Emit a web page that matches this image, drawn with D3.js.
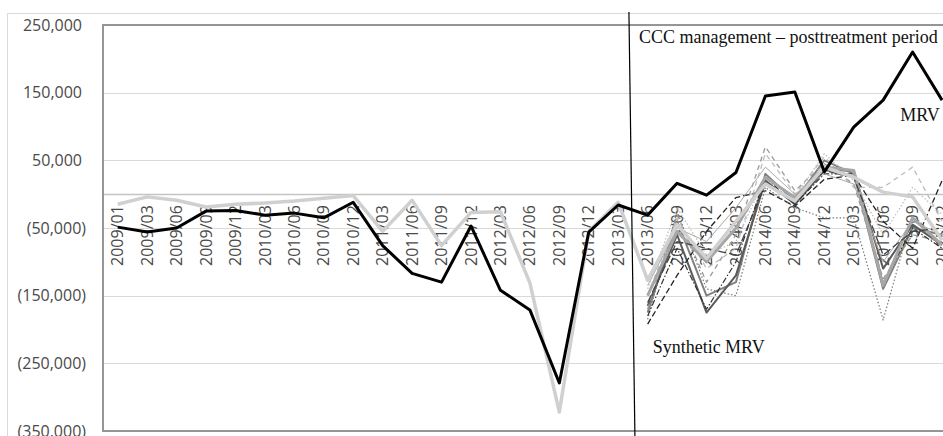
<!DOCTYPE html>
<html>
<head>
<meta charset="utf-8">
<script src="https://cdn.jsdelivr.net/npm/d3@7"></script>
<style>
  body { margin: 0; background: #fff; }
  svg { display: block; }
</style>
</head>
<body>
<svg id="chart"></svg>
<script>
var categories = ["2009/01", "2009/03", "2009/06", "2009/09", "2009/12",
    "2010/03", "2010/06", "2010/09", "2010/12",
    "2011/03", "2011/06", "2011/09", "2011/12",
    "2012/03", "2012/06", "2012/09", "2012/12",
    "2013/03", "2013/06", "2013/09", "2013/12",
    "2014/03", "2014/06", "2014/09", "2014/12",
    "2015/03", "2015/06", "2015/09", "2015/12"];

var yTicks = [250000, 150000, 50000, -50000, -150000, -250000, -350000];

// actual MRV
var mrv = [-48700, -56000, -50000, -25000, -24000, -31000, -28000, -35000, -12000,
    -76000, -117000, -130000, -47000, -142000, -171000, -279000, -56000, -16000,
    -31000, 16000, -1500, 32000, 145000, 151000, 33000, 99000, 139000, 210000, 139000];

// synthetic MRV (thick light grey)
var synthetic = [-15000, -4000, -9000, -19000, -15000, -13000, -10000, -6000, -2000,
    -55000, -9000, -76000, -27000, -26000, -131000, -322000, -55000, -12000,
    -127000, -45000, -95000, -40000, 15000, -10000, 40000, 25000, 3000, -4000, -68000];

// post treatment synthetic runs, 2013/06 .. 2015/12
var postStart = "2013/06";
var runA = [-175000, -40000, -150000, -130000, 30000, -10000, 50000, 30000, -140000, -50000, -60000];
var runB = [-165000, -60000, -175000, -120000, 20000, -15000, 35000, 35000, -110000, -45000, -75000];
var runC = [-192000, -120000, -55000, -5000, 5000, -18000, 22000, 28000, -40000, -80000, 20000];
var runD = [-170000, -30000, -130000, -60000, 70000, 5000, 45000, 15000, -125000, -60000, -70000];
var runE = [-150000, -35000, -110000, -80000, 60000, 0, 55000, 10000, 10000, 40000, -40000];
var runF = [-185000, -25000, -140000, -150000, 10000, -20000, -35000, -35000, -186000, -30000, -75000];
var runG = [-140000, -20000, -90000, -70000, 25000, -5000, 60000, 20000, -60000, 10000, -30000];
var runH = [-180000, -80000, -170000, -100000, 25000, -15000, 30000, 30000, -130000, -50000, -80000];
var runI = [-135000, -50000, -70000, -20000, 40000, 0, 30000, 15000, -100000, -40000, -60000];
var runJ = [-150000, -55000, -100000, -50000, 25000, -5000, 40000, 35000, -135000, -35000, -75000];
var runK = [-160000, -70000, -80000, -90000, 15000, -10000, 35000, 25000, -90000, -55000, -50000];

var runs = [runA, runB, runC, runD, runE, runF, runG, runH, runI, runJ, runK];
var runStyles = [
    { color: "#808080", width: 2, dash: null },
    { color: "#5a5a5a", width: 2, dash: null },
    { color: "#222222", width: 1.3, dash: "6,3" },
    { color: "#9a9a9a", width: 1.3, dash: "5,4" },
    { color: "#bdbdbd", width: 1.3, dash: "5,4" },
    { color: "#7a7a7a", width: 1.2, dash: "1.5,2" },
    { color: "#bbbbbb", width: 1.2, dash: "1.5,2" },
    { color: "#333333", width: 1.2, dash: "6,2,1.5,2" },
    { color: "#aaaaaa", width: 1, dash: null },
    { color: "#a6a6a6", width: 3, dash: null },
    { color: "#444444", width: 1.3, dash: "8,3" }
];

var width = 943, height = 436;
var plot = { left: 103, top: 25, bottom: 431, step: 29.44 };

var svg = d3.select("#chart").attr("width", width).attr("height", height);

var x = d3.scalePoint()
    .domain(categories)
    .range([plot.left, plot.left + plot.step * categories.length])
    .padding(0.5);

var y = d3.scaleLinear()
    .domain([-350000, 250000])
    .range([plot.bottom, plot.top]);

var plotRight = plot.left + plot.step * categories.length;

// outer chart frame
svg.append("rect")
    .attr("x", 7.5).attr("y", 13.5)
    .attr("width", width).attr("height", height)
    .attr("fill", "none").attr("stroke", "#d9d9d9").attr("stroke-width", 1);

// gridlines
svg.append("g").selectAll("line")
    .data(yTicks)
    .enter()
    .append("line")
    .attr("x1", plot.left).attr("x2", plotRight)
    .attr("y1", d => Math.round(y(d)) + 0.5).attr("y2", d => Math.round(y(d)) + 0.5)
    .attr("stroke", "#d9d9d9").attr("stroke-width", 1.2);

// zero axis
svg.append("line")
    .attr("x1", plot.left).attr("x2", plotRight)
    .attr("y1", Math.round(y(0)) + 0.5).attr("y2", Math.round(y(0)) + 0.5)
    .attr("stroke", "#c4c4c4").attr("stroke-width", 1.3);

// plot border
svg.append("rect")
    .attr("x", plot.left).attr("y", plot.top)
    .attr("width", plotRight - plot.left).attr("height", plot.bottom - plot.top)
    .attr("fill", "none").attr("stroke", "#8c8c8c").attr("stroke-width", 1.8);

// y labels, accounting style
var fmt = d3.format(",");
svg.append("g").selectAll("text")
    .data(yTicks)
    .enter()
    .append("text")
    .attr("x", d => d < 0 ? 86 : 82)
    .attr("y", d => y(d))
    .attr("dy", "0.35em")
    .attr("text-anchor", "end")
    .style("font-family", "'Open Sans', sans-serif")
    .style("font-size", "16px")
    .attr("fill", "#4a4a4a")
    .text(d => d < 0 ? "(" + fmt(-d) + ")" : fmt(d));

// category labels
svg.append("g").selectAll("text")
    .data(categories)
    .enter()
    .append("text")
    .attr("transform", d => "translate(" + x(d) + "," + (y(0) + 11) + ") rotate(-90)")
    .attr("dy", "0.35em")
    .attr("text-anchor", "end")
    .style("font-family", "'Open Sans', sans-serif")
    .style("font-size", "16px")
    .attr("fill", "#4a4a4a")
    .text(d => d);

var line = d3.line()
    .x(d => x(d.cat))
    .y(d => y(d.value));

// synthetic runs after treatment
var startIdx = categories.indexOf(postStart);
runs.forEach(function(run, i) {
    var pts = run.map((v, j) => ({ cat: categories[startIdx + j], value: v }));
    var st = runStyles[i];
    svg.append("path")
        .datum(pts)
        .attr("d", line)
        .attr("fill", "none")
        .attr("stroke", st.color)
        .attr("stroke-width", st.width)
        .attr("stroke-dasharray", st.dash)
        .attr("stroke-linejoin", "round");
});

// synthetic MRV
svg.append("path")
    .datum(synthetic.map((v, i) => ({ cat: categories[i], value: v })))
    .attr("d", line)
    .attr("fill", "none")
    .attr("stroke", "#d0d0d0")
    .attr("stroke-width", 3.5)
    .attr("stroke-linejoin", "round");

// actual MRV
svg.append("path")
    .datum(mrv.map((v, i) => ({ cat: categories[i], value: v })))
    .attr("d", line)
    .attr("fill", "none")
    .attr("stroke", "#000")
    .attr("stroke-width", 3)
    .attr("stroke-linejoin", "round");

// treatment line between 2013/03 and 2013/06
var treatX = (x("2013/03") + x("2013/06")) / 2;
svg.append("line")
    .attr("x1", treatX - 4).attr("y1", 12)
    .attr("x2", treatX + 2).attr("y2", height)
    .attr("stroke", "#000").attr("stroke-width", 1.2);

// annotations
var serif = "'Liberation Serif', 'Times New Roman', serif";
svg.append("text")
    .attr("x", treatX + 6).attr("y", 43)
    .style("font-family", serif).style("font-size", "18px")
    .attr("fill", "#111")
    .text("CCC management \u2013 posttreatment period");

svg.append("text")
    .attr("x", x("2015/06") + 17).attr("y", 121)
    .style("font-family", serif).style("font-size", "18px")
    .attr("fill", "#111")
    .text("MRV");

svg.append("text")
    .attr("x", x("2013/06") + 5).attr("y", 353)
    .style("font-family", serif).style("font-size", "18px")
    .attr("fill", "#111")
    .text("Synthetic MRV");
</script>
</body>
</html>
